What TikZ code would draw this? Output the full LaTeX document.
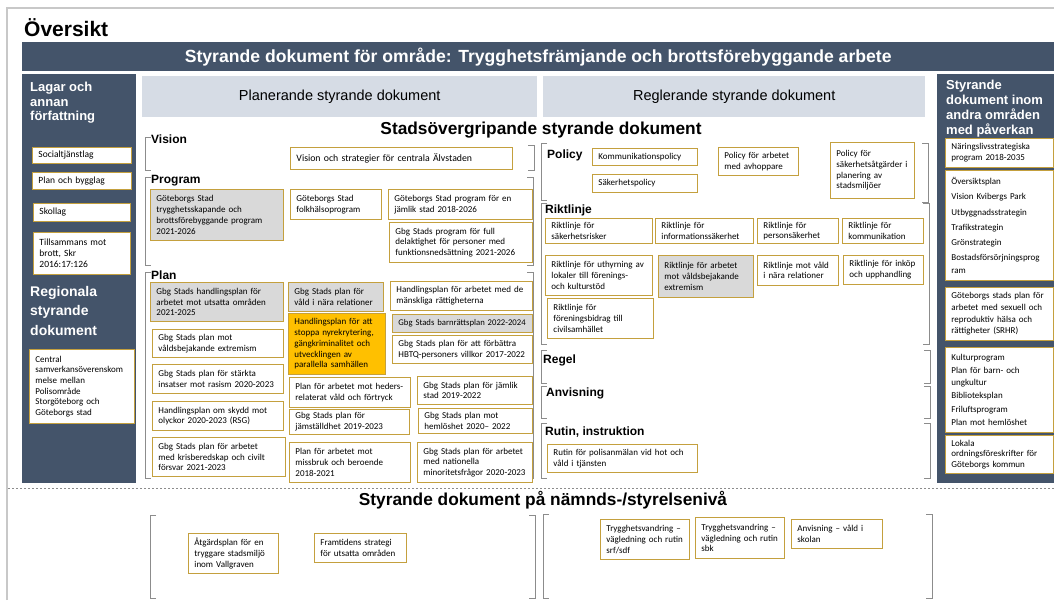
\documentclass[tikz,border=0pt]{standalone}
\usepackage{fontspec}
\setmainfont{Liberation Sans}
\newfontfamily\calfamily{Carlito}
\usetikzlibrary{shadows}

\definecolor{slate}{RGB}{68,84,106}
\definecolor{headblue}{RGB}{214,220,229}
\definecolor{docgold}{RGB}{196,160,62}
\definecolor{docgray}{RGB}{217,217,217}
\definecolor{docorange}{RGB}{255,192,0}
\definecolor{brgray}{RGB}{140,140,140}
\definecolor{framegray}{RGB}{200,200,200}

\newcommand{\bxfont}{\fontsize{9}{10.7}\calfamily}
\newcommand{\scfont}{\fontsize{12}{14}\selectfont\bfseries}

\tikzset{
  docbox/.style 2 args={draw=docgold, fill=white, line width=0.9pt, anchor=north west,
    minimum width=#1, minimum height=#2, text width=#1-12, inner xsep=6pt, inner ysep=1pt,
    align=left, font=\bxfont, drop shadow={shadow xshift=0.8pt, shadow yshift=-0.8pt, opacity=0.25}},
  seclabel/.style={anchor=west, inner sep=0pt, font=\scfont},
  brk/.style={draw=brgray, line width=0.7pt},
  colhead/.style={anchor=north west, inner sep=0pt, text=white, align=left},
  greyhead/.style={anchor=north west, fill=headblue, minimum height=41, inner sep=0pt, font=\fontsize{14.5}{17}\selectfont},
  bigtitle/.style={inner sep=0pt, font=\bfseries\fontsize{17.3}{20}\selectfont}
}

\begin{document}
\begin{tikzpicture}[x=1pt,y=-1pt]

      \useasboundingbox (0,0) rectangle (1054,600);
      \fill[white] (0,0) rectangle (1054,600);

      % outer frame, only top and left edge are in view
      \draw[framegray, line width=1.5pt] (7,600) -- (7,8) -- (1054,8);

      % title and banner
      \node[anchor=base west, inner sep=0pt, font=\bfseries\fontsize{21}{24}\selectfont] (title) at (24,36) {Översikt};
      \node[anchor=north west, fill=slate, text=white, minimum width=1032, minimum height=29, inner sep=0pt, font=\bfseries\fontsize{17.6}{20}\selectfont] (banner) at (22,42) {Styrande dokument för område: Trygghetsfrämjande och brottsförebyggande arbete};

      % dark side columns
      \fill[slate] (22,74) rectangle (136,483);
      \fill[slate] (937,74) rectangle (1054,483);
      \node[colhead, font=\bfseries\fontsize{13}{14.5}\selectfont] (lawhead) at (30,82) {Lagar och\\annan\\författning};
      \node[colhead, font=\bfseries\fontsize{14}{19.5}\selectfont] (reghead) at (30,286) {Regionala\\styrande\\dokument};
      \node[colhead, font=\bfseries\fontsize{13}{15}\selectfont] (othhead) at (946,80) {Styrande\\dokument inom\\andra områden\\med påverkan};

      % laws and regional documents
      \node[docbox={99}{16}, font=\fontsize{9.5}{11}\calfamily] (law1) at (32,147) {Socialtjänstlag};
      \node[docbox={99}{17}, font=\fontsize{9.5}{11}\calfamily] (law2) at (32,172) {Plan och bygglag};
      \node[docbox={97}{18}, font=\fontsize{9.5}{11}\calfamily] (law3) at (33,203) {Skollag};
      \node[docbox={97}{42}, font=\fontsize{9.5}{11}\calfamily] (law4) at (33,232) {Tillsammans mot\\brott, Skr\\2016:17:126};
      \node[docbox={105}{74}] (reg1) at (29,349) {Central\\samverkansöverenskom\\melse mellan\\Polisområde\\Storgöteborg och\\Göteborgs stad};

      % grey headers over the two middle parts
      \node[greyhead, minimum width=395] (planhead) at (142,76) {Planerande styrande dokument};
      \node[greyhead, minimum width=382] (reglhead) at (543,76) {Reglerande styrande dokument};
      \node[bigtitle] (stadtitle) at (541,130) {Stadsövergripande styrande dokument};

      % vision
      \draw[brk] (151,137) -- (145,137) -- (145,170) -- (151,170);
      \draw[brk] (528,145) -- (534,145) -- (534,170) -- (528,170);
      \node[seclabel] (lblvision) at (151,139) {Vision};
      \node[docbox={222}{22}, font=\fontsize{9.8}{11}\calfamily] (vis1) at (290,147) {Vision och strategier för centrala Älvstaden};

      % program
      \draw[brk] (151,177) -- (145,177) -- (145,265) -- (151,265);
      \draw[brk] (527,177) -- (533,177) -- (533,265) -- (527,265);
      \node[seclabel] (lblprogram) at (151,181) {Program};
      \node[docbox={133}{51}, fill=docgray] (prog1) at (150,189) {Göteborgs Stad\\trygghetsskapande och\\brottsförebyggande program\\2021-2026};
      \node[docbox={91}{30}] (prog2) at (290,189) {Göteborgs Stad\\folkhälsoprogram};
      \node[docbox={144}{30}] (prog3) at (388,189) {Göteborgs Stad program för en\\jämlik stad 2018-2026};
      \node[docbox={143}{40}] (prog4) at (389,222) {Gbg Stads program för full\\delaktighet för personer med\\funktionsnedsättning 2021-2026};

      % plan
      \draw[brk] (151,272) -- (145,272) -- (145,478) -- (151,478);
      \draw[brk] (527,272) -- (533,272) -- (533,478) -- (527,478);
      \node[seclabel] (lblplan) at (151,275) {Plan};
      \node[docbox={133}{39}, fill=docgray] (plan1) at (150,282) {Gbg Stads handlingsplan för\\arbetet mot utsatta områden\\2021-2025};
      \node[docbox={131}{28}] (plan2) at (152,329) {Gbg Stads plan mot\\våldsbejakande extremism};
      \node[docbox={131}{29}] (plan3) at (152,364) {Gbg Stads plan för stärkta\\insatser mot rasism 2020-2023};
      \node[docbox={131}{29}] (plan4) at (152,401) {Handlingsplan om skydd mot\\olyckor 2020-2023 (RSG)};
      \node[docbox={133}{39}] (plan5) at (152,437) {Gbg Stads plan för arbetet\\med krisberedskap och civilt\\försvar 2021-2023};
      \node[docbox={95}{29}, fill=docgray] (plan6) at (288,282) {Gbg Stads plan för\\våld i nära relationer};
      \node[docbox={97}{61}, fill=docorange] (plan7) at (288,313) {Handlingsplan för att\\stoppa nyrekrytering,\\gängkriminalitet och\\utvecklingen av\\parallella samhällen};
      \node[docbox={121}{30}] (plan8) at (289,377) {Plan för arbetet mot heders-\\relaterat våld och förtryck};
      \node[docbox={120}{25}] (plan9) at (289,409) {Gbg Stads plan för\\jämställdhet 2019-2023};
      \node[docbox={121}{40}] (plan10) at (289,442) {Plan för arbetet mot\\missbruk och beroende\\2018-2021};
      \node[docbox={142}{29}] (plan11) at (390,281) {Handlingsplan för arbetet med de\\mänskliga rättigheterna};
      \node[docbox={140}{18}, fill=docgray, font=\fontsize{8.7}{10.5}\calfamily] (plan12) at (392,314) {Gbg Stads barnrättsplan 2022-2024};
      \node[docbox={140}{28}] (plan13) at (392,335) {Gbg Stads plan för att förbättra\\HBTQ-personers villkor 2017-2022};
      \node[docbox={115}{28}] (plan14) at (417,376) {Gbg Stads plan för jämlik\\stad 2019-2022};
      \node[docbox={114}{25}] (plan15) at (418,408) {Gbg Stads plan mot\\hemlöshet 2020– 2022};
      \node[docbox={115}{40}] (plan16) at (417,442) {Gbg Stads plan för arbetet\\med nationella\\minoritetsfrågor 2020-2023};

      % policy
      \draw[brk] (547,143) -- (541,143) -- (541,200) -- (547,200);
      \draw[brk] (922,143) -- (928,143) -- (928,202) -- (922,202);
      \node[seclabel] (lblpolicy) at (547,155) {Policy};
      \node[docbox={105}{17}] (pol1) at (592,148) {Kommunikationspolicy};
      \node[docbox={105}{18}] (pol2) at (592,174) {Säkerhetspolicy};
      \node[docbox={80}{28}] (pol3) at (718,147) {Policy för arbetet\\med avhoppare};
      \node[docbox={84}{56}] (pol4) at (830,142) {Policy för\\säkerhetsåtgärder i\\planering av\\stadsmiljöer};

      % riktlinje
      \draw[brk] (547,203) -- (541,203) -- (541,344) -- (547,344);
      \draw[brk] (923,203) -- (929,203) -- (929,344) -- (923,344);
      \node[seclabel] (lblriktlinje) at (545,210) {Riktlinje};
      \node[docbox={107}{25}] (rik1) at (545,218) {Riktlinje för\\säkerhetsrisker};
      \node[docbox={98}{25}] (rik2) at (655,218) {Riktlinje för\\informationssäkerhet};
      \node[docbox={81}{25}] (rik3) at (757,218) {Riktlinje för\\personsäkerhet};
      \node[docbox={81}{25}] (rik4) at (842,218) {Riktlinje för\\kommunikation};
      \node[docbox={107}{40}] (rik5) at (545,255) {Riktlinje för uthyrning av\\lokaler till förenings-\\och kulturstöd};
      \node[docbox={95}{42}, fill=docgray] (rik6) at (658,255) {Riktlinje för arbetet\\mot våldsbejakande\\extremism};
      \node[docbox={81}{30}] (rik7) at (757,255) {Riktlinje mot våld\\i nära relationer};
      \node[docbox={80}{29}] (rik8) at (843,255) {Riktlinje för inköp\\och upphandling};
      \node[docbox={106}{40}] (rik9) at (547,298) {Riktlinje för\\föreningsbidrag till\\civilsamhället};

      % regel, anvisning, rutin
      \draw[brk] (547,350) -- (541,350) -- (541,383) -- (547,383);
      \draw[brk] (924,350) -- (930,350) -- (930,383) -- (924,383);
      \node[seclabel] (lblregel) at (543,360) {Regel};
      \draw[brk] (547,386) -- (541,386) -- (541,418) -- (547,418);
      \draw[brk] (924,386) -- (930,386) -- (930,418) -- (924,418);
      \node[seclabel] (lblanvisning) at (546,393) {Anvisning};
      \draw[brk] (547,423) -- (541,423) -- (541,478) -- (547,478);
      \draw[brk] (924,423) -- (930,423) -- (930,478) -- (924,478);
      \node[seclabel] (lblrutin) at (545,432) {Rutin, instruktion};
      \node[docbox={150}{28}] (rut1) at (547,444) {Rutin för polisanmälan vid hot och\\våld i tjänsten};

      % documents in other areas
      \node[docbox={108}{29}] (oth1) at (945,138) {Näringslivsstrategiska\\program 2018-2035};
      \node[docbox={108}{110}] (oth2) at (945,170) {Översiktsplan\\[4.5pt]Vision Kvibergs Park\\[4.5pt]Utbyggnadsstrategin\\[4.5pt]Trafikstrategin\\[4.5pt]Grönstrategin\\[4.5pt]Bostadsförsörjningsprog\\[2pt]ram};
      \node[docbox={108}{53}] (oth3) at (945,287) {Göteborgs stads plan för\\[1pt]arbetet med sexuell och\\[1pt]reproduktiv hälsa och\\[1pt]rättigheter (SRHR)};
      \node[docbox={108}{85}] (oth4) at (945,347) {Kulturprogram\\[2.5pt]Plan för barn- och\\[1pt]ungkultur\\[2.5pt]Biblioteksplan\\[2.5pt]Friluftsprogram\\[2.5pt]Plan mot hemlöshet};
      \node[docbox={108}{38}] (oth5) at (945,435) {Lokala\\ordningsföreskrifter för\\Göteborgs kommun};

      % dotted split to the board level
      \draw[brgray, line width=0.8pt, dash pattern=on 2pt off 2pt] (8,488) -- (1054,488);
      \node[bigtitle] (boardtitle) at (543,500) {Styrande dokument på nämnds-/styrelsenivå};

      % board level documents
      \draw[brk] (156,515) -- (150,515) -- (150,598) -- (156,598);
      \draw[brk] (529,515) -- (535,515) -- (535,598) -- (529,598);
      \draw[brk] (549,514) -- (543,514) -- (543,598) -- (549,598);
      \draw[brk] (926,514) -- (932,514) -- (932,598) -- (926,598);
      \node[docbox={90}{40}] (bot1) at (188,533) {Åtgärdsplan för en\\tryggare stadsmiljö\\inom Vallgraven};
      \node[docbox={92}{29}] (bot2) at (314,533) {Framtidens strategi\\för utsatta områden};
      \node[docbox={89}{40}] (bot3) at (600,519) {Trygghetsvandring –\\vägledning och rutin\\srf/sdf};
      \node[docbox={89}{41}] (bot4) at (695,517) {Trygghetsvandring –\\vägledning och rutin\\sbk};
      \node[docbox={91}{29}] (bot5) at (791,519) {Anvisning – våld i\\skolan};

\end{tikzpicture}
\end{document}
